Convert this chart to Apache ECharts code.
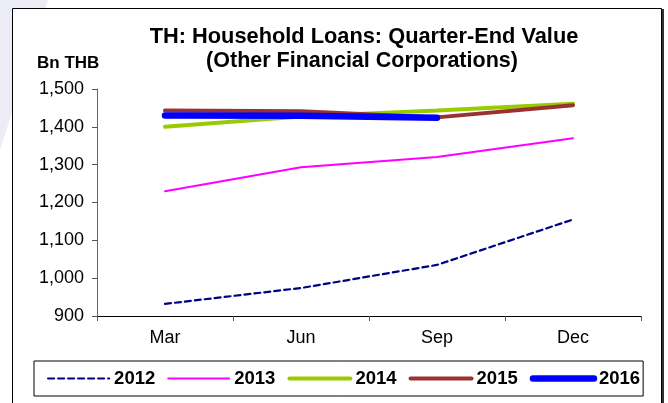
<!DOCTYPE html>
<html>
<head>
<meta charset="utf-8">
<script src="https://cdn.jsdelivr.net/npm/echarts@6/dist/echarts.min.js"></script>
<style>
  html, body { margin: 0; padding: 0; background: #ffffff; }
  #chart { width: 668px; height: 403px; }
</style>
</head>
<body>
<div id="chart"></div>
<script>
// Quarter-end household loans held by other financial corporations (Bn THB)
const quarters = ['Mar', 'Jun', 'Sep', 'Dec'];
const years = ['2012', '2013', '2014', '2015', '2016'];
const loans2012 = [932, 974, 1035, 1155];
const loans2013 = [1230, 1293, 1320, 1370];
const loans2014 = [1400, 1427, 1443, 1461];
const loans2015 = [1443, 1441, 1425, 1457];
const loans2016 = [1430, 1429, 1424];
const yTicks = { min: 900, max: 1500, step: 100 };

const FONT = '"Liberation Sans", Arial, sans-serif';

const styles = {
  '2012': { color: '#000080', width: 2.2, type: [6, 4] },
  '2013': { color: '#ff00ff', width: 2, type: 'solid' },
  '2014': { color: '#99cc00', width: 4, type: 'solid' },
  '2015': { color: '#993333', width: 4, type: 'solid' },
  '2016': { color: '#0000ff', width: 6.5, type: 'solid' }
};
const values = [loans2012, loans2013, loans2014, loans2015, loans2016];

const chart = echarts.init(document.getElementById('chart'), null, { renderer: 'canvas' });

const series = years.map((y, i) => ({
  name: y,
  type: 'line',
  data: values[i],
  showSymbol: false,
  symbol: 'none',
  smooth: false,
  z: 2 + i,
  lineStyle: { color: styles[y].color, width: styles[y].width, type: styles[y].type, cap: 'round' },
  itemStyle: { color: styles[y].color },
  emphasis: { disabled: true }
}));

// legend entries keep each series' own stroke width and dash pattern
const legendItems = years.map(y => ({
  name: y,
  itemStyle: { opacity: 0 },
  lineStyle: { width: styles[y].width, type: styles[y].type, color: styles[y].color, cap: 'round' }
}));

chart.setOption({
  animation: false,
  backgroundColor: '#ffffff',
  graphic: [
    { type: 'polygon', z: -10, silent: true, shape: { points: [[0, 0], [48, 0], [0, 150]] }, style: { fill: '#ececf6' } },
    { type: 'rect', z: -5, silent: true, shape: { x: 12.5, y: 8.5, width: 649, height: 420 }, style: { fill: '#ffffff', stroke: '#000000', lineWidth: 1 } },
    { type: 'line', z: -4, silent: true, shape: { x1: 663, y1: 9, x2: 663, y2: 403 }, style: { stroke: '#333333', lineWidth: 2 } },
    { type: 'text', x: 364, y: 37, style: { text: 'TH: Household Loans: Quarter-End Value', font: 'bold 21.8px ' + FONT, fill: '#000', align: 'center', verticalAlign: 'middle' } },
    { type: 'text', x: 362, y: 61, style: { text: '(Other Financial Corporations)', font: 'bold 21.5px ' + FONT, fill: '#000', align: 'center', verticalAlign: 'middle' } },
    { type: 'text', x: 37, y: 63, style: { text: 'Bn THB', font: 'bold 17px ' + FONT, fill: '#000', align: 'left', verticalAlign: 'middle' } }
  ],
  legend: {
    data: legendItems,
    left: 34,
    top: 361,
    padding: [8, 3, 8, 13],
    borderColor: '#000000',
    borderWidth: 1,
    backgroundColor: '#ffffff',
    itemWidth: 61,
    itemHeight: 18,
    itemGap: 12,
    itemStyle: { opacity: 0 },
    textStyle: { fontFamily: FONT, fontSize: 18.5, fontWeight: 'bold', color: '#000' }
  },
  grid: { left: 97, right: 27, top: 89, bottom: 87, containLabel: false },
  xAxis: {
    type: 'category',
    data: quarters,
    boundaryGap: true,
    axisLine: { lineStyle: { color: '#000000', width: 1 } },
    axisTick: { show: true, length: 5, lineStyle: { color: '#555' } },
    axisLabel: { fontFamily: FONT, fontSize: 18, color: '#000', margin: 13 },
    splitLine: { show: false }
  },
  yAxis: {
    type: 'value',
    min: yTicks.min,
    max: yTicks.max,
    interval: yTicks.step,
    axisLine: { show: true, lineStyle: { color: '#666666', width: 1 } },
    axisTick: { show: true, length: 5, lineStyle: { color: '#555' } },
    axisLabel: {
      fontFamily: FONT, fontSize: 18, color: '#000', margin: 13,
      formatter: v => v.toLocaleString('en-US')
    },
    splitLine: { show: false }
  },
  series: series
});
</script>
</body>
</html>
